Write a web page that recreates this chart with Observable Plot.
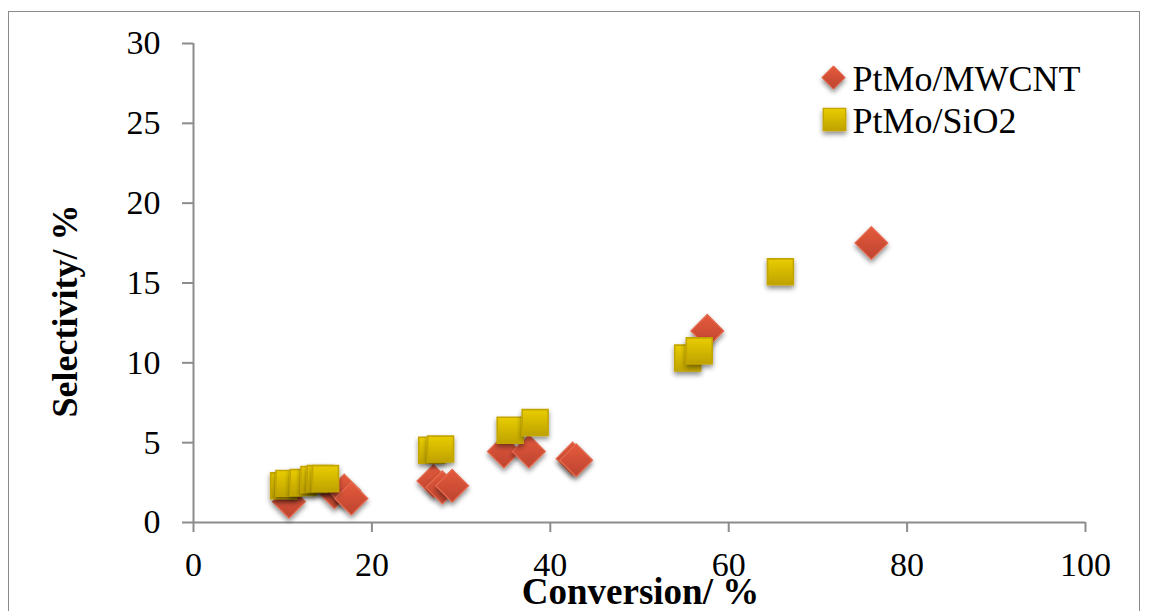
<!DOCTYPE html>
<html>
<head>
<meta charset="utf-8">
<script src="https://cdn.jsdelivr.net/npm/d3@7"></script>
<script src="https://cdn.jsdelivr.net/npm/@observablehq/plot@0.6"></script>
<style>
  html, body { margin: 0; padding: 0; background: #fff; }
  #wrap { position: relative; width: 1149px; height: 611px; overflow: hidden; }
  #border { position: absolute; left: 8px; top: 11px; width: 1132px; height: 700px;
            border: 1.5px solid #8a8a8a; box-sizing: border-box; pointer-events: none; }
  #chart { position: absolute; left: 0; top: 0; }
</style>
</head>
<body>
<div id="wrap">
  <div id="border"></div>
  <div id="chart"></div>
</div>
<script>
// Series: conversion (%) vs selectivity (%)
const seriesNames = ["PtMo/MWCNT", "PtMo/SiO2"];

const mwcntConversion  = [10.7, 15.8, 16.9, 17.7, 26.9, 27.9, 29.0, 34.8, 37.6, 42.5, 42.9, 57.6, 76.0];
const mwcntSelectivity = [1.3, 1.9, 2.0, 1.5, 2.6, 2.2, 2.3, 4.45, 4.45, 4.0, 3.9, 12.0, 17.5];

const sio2Conversion  = [10.1, 10.7, 12.3, 13.5, 14.2, 14.8, 26.7, 27.7, 35.5, 38.3, 55.4, 56.7, 65.8];
const sio2Selectivity = [2.3, 2.45, 2.5, 2.7, 2.75, 2.75, 4.53, 4.6, 5.78, 6.26, 10.3, 10.75, 15.7];

const xTicks = [0, 20, 40, 60, 80, 100];
const yTicks = [0, 5, 10, 15, 20, 25, 30];

const mwcnt = mwcntConversion.map((c, i) => ({conversion: c, selectivity: mwcntSelectivity[i]}));
const sio2 = sio2Conversion.map((c, i) => ({conversion: c, selectivity: sio2Selectivity[i]}));

const axisGray = "#8c8c8c";
const serif = "'Liberation Serif', 'Times New Roman', serif";

const chart = Plot.plot({
  width: 1149,
  height: 611,
  marginLeft: 193,
  marginRight: 64,
  marginTop: 43,
  marginBottom: 89,
  style: {fontFamily: serif, fontSize: "34px", color: "#000", background: "transparent", overflow: "visible"},
  x: {domain: [0, 100]},
  y: {domain: [0, 30]},
  marks: [
    Plot.ruleX([0], {stroke: axisGray, strokeWidth: 2}),
    Plot.ruleY([0], {stroke: axisGray, strokeWidth: 2}),
    Plot.axisX({ticks: xTicks, tickSize: 10, tickPadding: 19, stroke: axisGray, strokeWidth: 2,
                strokeOpacity: 1, label: null, fontSize: 34, fill: "#000"}),
    Plot.axisY({ticks: yTicks, tickSize: 11, tickPadding: 22, stroke: axisGray, strokeWidth: 2,
                strokeOpacity: 1, label: null, fontSize: 34, fill: "#000"}),
    // data markers
    Plot.dot(mwcnt, {x: "conversion", y: "selectivity", symbol: "diamond2", r: 14.8,
                     fill: "url(#gradMw)", stroke: "#e56a4e", strokeWidth: 1.2}),
    Plot.dot(sio2, {x: "conversion", y: "selectivity", symbol: "square", r: 14.6,
                    fill: "url(#gradSi)", stroke: "#c4a500", strokeWidth: 1.6}),
    // legend
    Plot.dot([seriesNames[0]], {frameAnchor: "top-left", dx: 640, dy: 34, symbol: "diamond2", r: 10.5,
                                fill: "url(#gradMw)", stroke: "#e56a4e", strokeWidth: 1}),
    Plot.dot([seriesNames[1]], {frameAnchor: "top-left", dx: 641, dy: 76, symbol: "square", r: 12.6,
                                fill: "url(#gradSi)", stroke: "#c4a500", strokeWidth: 1.4}),
    Plot.text([seriesNames[0]], {text: d => d, frameAnchor: "top-left", dx: 659, dy: 47,
                                 textAnchor: "start", lineAnchor: "bottom", fontSize: 36, fill: "#000"}),
    Plot.text([seriesNames[1]], {text: d => d, frameAnchor: "top-left", dx: 659, dy: 89,
                                 textAnchor: "start", lineAnchor: "bottom", fontSize: 36, fill: "#000"}),
    // axis titles
    Plot.text(["Selectivity/ %"], {text: d => d, frameAnchor: "left", dx: -128, dy: 28, rotate: -90,
                                   textAnchor: "middle", fontSize: 36, fontWeight: "bold", fill: "#000"}),
    Plot.text(["Conversion/ %"], {text: d => d, frameAnchor: "bottom", dx: 1, dy: 81,
                                  textAnchor: "middle", lineAnchor: "bottom", fontSize: 37,
                                  fontWeight: "bold", fill: "#000"})
  ]
});

// gradients and soft shadow for the markers
const svg = d3.select(chart);
const defs = svg.insert("defs", ":first-child");
const gMw = defs.append("linearGradient").attr("id", "gradMw").attr("x1", 0).attr("y1", 0).attr("x2", 0).attr("y2", 1);
gMw.append("stop").attr("offset", "0%").attr("stop-color", "#e55a3c");
gMw.append("stop").attr("offset", "100%").attr("stop-color", "#bd4430");
const gSi = defs.append("linearGradient").attr("id", "gradSi").attr("x1", 0).attr("y1", 0).attr("x2", 0).attr("y2", 1);
gSi.append("stop").attr("offset", "0%").attr("stop-color", "#e9cd00");
gSi.append("stop").attr("offset", "100%").attr("stop-color", "#bea200");
const sh = defs.append("filter").attr("id", "shadow").attr("x", "-50%").attr("y", "-50%").attr("width", "200%").attr("height", "200%");
sh.append("feDropShadow").attr("dx", 0).attr("dy", 3).attr("stdDeviation", 2.5)
  .attr("flood-color", "#000").attr("flood-opacity", 0.45);
svg.selectAll("path").filter(function () {
  const f = this.getAttribute("fill") || (this.parentNode && this.parentNode.getAttribute("fill")) || "";
  return f.startsWith("url(#grad");
}).attr("filter", "url(#shadow)");

document.getElementById("chart").appendChild(chart);
</script>
</body>
</html>
